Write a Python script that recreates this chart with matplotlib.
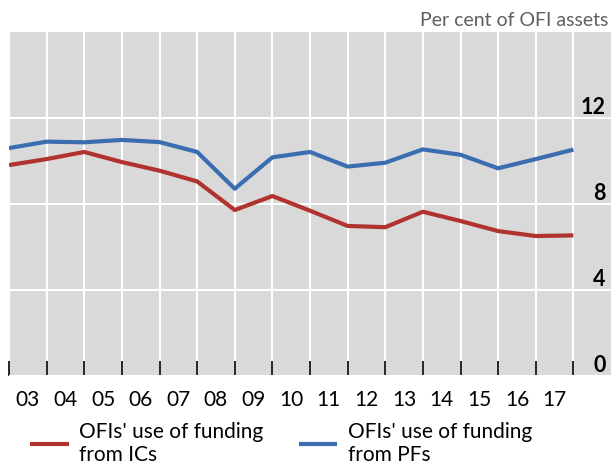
import matplotlib
matplotlib.use("Agg")
import matplotlib.pyplot as plt

# annual observations, plotted at the start of each year
years = list(range(2003, 2019))
ofi_ics = [9.81, 10.09, 10.42, 9.95, 9.55, 9.05, 7.72, 8.37, 7.69,
           6.98, 6.92, 7.64, 7.21, 6.74, 6.51, 6.54]
ofi_pfs = [10.60, 10.90, 10.87, 10.98, 10.88, 10.42, 8.71, 10.17, 10.42,
           9.74, 9.92, 10.54, 10.29, 9.66, 10.09, 10.53]
year_labels = ["03", "04", "05", "06", "07", "08", "09", "10", "11",
               "12", "13", "14", "15", "16", "17"]
y_ticks = [0, 4, 8, 12]
series_names = ["OFIs' use of funding\nfrom ICs", "OFIs' use of funding\nfrom PFs"]

red = "#B0332F"
blue = "#3B6DB1"

plt.rcParams['font.family'] = ['Lato', 'DejaVu Sans']

fig = plt.figure(figsize=(6.12, 4.67), dpi=100)
ax = fig.add_axes([9 / 612, (467 - 376) / 467, 602 / 612, 344 / 467])
ax.set_facecolor("#D9D9D9")

ax.plot(years, ofi_ics, color=red, lw=3, label=series_names[0], solid_capstyle='butt')
ax.plot(years, ofi_pfs, color=blue, lw=3, label=series_names[1], solid_capstyle='butt')

ax.set_xlim(2003, 2019)
ax.set_ylim(0, 16)

# gridlines on year boundaries, labels in the middle of each year
ax.set_xticks(range(2003, 2019))
ax.set_xticklabels([])
ax.set_xticks([y + 0.5 for y in range(2003, 2003 + len(year_labels))], minor=True)
ax.set_xticklabels(year_labels, minor=True)
ax.tick_params(axis='x', which='major', direction='in', length=11, width=1.2, color='black')
ax.tick_params(axis='x', which='minor', length=0, labelsize=15, pad=10, labelcolor='black')
ax.grid(axis='x', which='major', color='white', lw=1.5)

ax.set_yticks(y_ticks)
ax.yaxis.tick_right()
ax.tick_params(axis='y', length=0, labelsize=15.5, pad=-4)
for lab in ax.get_yticklabels():
    lab.set_horizontalalignment('right')
    lab.set_verticalalignment('bottom')
    lab.set_fontweight('bold')
ax.grid(axis='y', color='white', lw=1.5)
ax.set_axisbelow(True)

for s in ax.spines.values():
    s.set_visible(False)

fig.text(608 / 612, 1 - 20 / 467, "Per cent of OFI assets", ha='right', va='center',
         fontsize=14, color='#5F5F5F')

leg = fig.legend(loc='upper left', bbox_to_anchor=(30 / 612, 1 - 422 / 467), ncol=2,
                 frameon=False, fontsize=15, handlelength=1.85, handletextpad=0.5,
                 columnspacing=1.7, borderpad=0, borderaxespad=0, labelspacing=0)
for t in leg.get_texts():
    t.set_linespacing(1.2)

fig.savefig("out.png", dpi=100)
